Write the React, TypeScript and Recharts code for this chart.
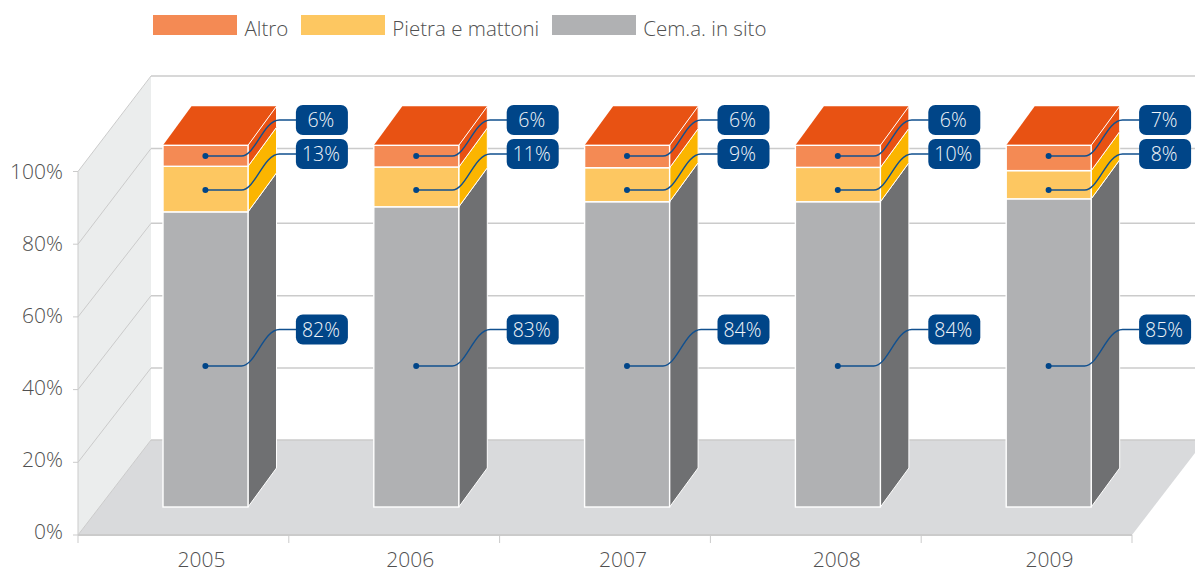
import React from 'react';
import { ComposedChart, Bar, Line, XAxis, YAxis, Legend, Customized } from 'recharts';

const years = ['2005', '2006', '2007', '2008', '2009'];
const cemento = [81.6, 83.0, 84.4, 84.4, 85.2];
const pietra = [12.6, 11.0, 9.4, 9.5, 7.8];
const altro = [5.8, 6.0, 6.2, 6.1, 7.0];
const yTicks = [0, 20, 40, 60, 80, 100];
const legendOrder = ['Altro', 'Pietra e mattoni', 'Cem.a. in sito'];
const backGrid = [76, 148.5, 223.3, 295.7, 368];
const xLabelNudge = [18, 16, 18, 21, 23];

const data = years.map((year, i) => ({ year, cemento: cemento[i], pietra: pietra[i], altro: altro[i] }));

const W = 1195;
const H = 569;
const L = 78;
const R = 1132;
const T = 171.5;
const B = 535;
const WALL_DX = 73;
const WALL_DY = 95;
const SHIFT_X = 22;
const SHIFT_Y = 28;
const DEPTH_X = 28.5;
const DEPTH_Y = 39;
const TEXT = '#505050';
const GRID = '#cbcbcb';
const FONT = '"Open Sans", "Noto Sans", sans-serif';

const makeBarShape = (front: string, side: string, withTop: boolean) => (p: any) => {
  const x = p.x + SHIFT_X;
  const y = p.y - SHIFT_Y;
  const w = p.width;
  const h = p.height;
  const rx = x + w;
  return (
    <g>
      {withTop && (
        <polygon points={`${x},${y} ${x + DEPTH_X},${y - DEPTH_Y} ${rx + DEPTH_X},${y - DEPTH_Y} ${rx},${y}`} fill="#e85213" />
      )}
      <polygon
        points={`${rx},${y} ${rx + DEPTH_X},${y - DEPTH_Y} ${rx + DEPTH_X},${y + h - DEPTH_Y} ${rx},${y + h}`}
        fill={side}
        stroke="#fff"
        strokeWidth={1}
      />
      <rect x={x} y={y} width={w} height={h} fill={front} stroke="#fff" strokeWidth={1.4} />
    </g>
  );
};

const makeLeader = (dotY: number, labelY: number) => (p: any) => {
  const x0 = p.cx + SHIFT_X;
  const value = Math.round(p.value as number);
  return (
    <g key={p.index}>
      <path
        d={`M${x0},${dotY} H${x0 + 36} C${x0 + 50},${dotY} ${x0 + 58},${labelY} ${x0 + 74},${labelY} H${x0 + 91}`}
        fill="none"
        stroke="#11508f"
        strokeWidth={1.4}
      />
      <circle cx={x0} cy={dotY} r={3} fill="#004588" />
      <rect x={x0 + 90.5} y={labelY - 15} width={52} height={30} rx={7} ry={7} fill="#004588" />
      <text
        x={x0 + 115.5}
        y={labelY}
        dy="0.36em"
        textAnchor="middle"
        fontFamily={FONT}
        fontSize={19.5}
        fontWeight={300}
        fill="#f2f5f9"
      >
        {value}%
      </text>
    </g>
  );
};

const Scene = () => {
  const step = (B - T) / 5;
  return (
    <g>
      <polygon
        points={`${L},${T} ${L + WALL_DX},${T - WALL_DY} ${L + WALL_DX},${B - WALL_DY} ${L},${B}`}
        fill="#ebeded"
      />
      <polygon
        points={`${L},${B} ${L + WALL_DX},${B - WALL_DY} ${W},${B - WALL_DY} ${W},${B - (W - R) * (WALL_DY / WALL_DX)} ${R},${B}`}
        fill="#d9dadc"
      />
      <line x1={L + WALL_DX} y1={B - WALL_DY} x2={W} y2={B - WALL_DY} stroke={GRID} strokeWidth={1.5} />
      <line x1={L} y1={B} x2={L + WALL_DX} y2={B - WALL_DY} stroke={GRID} strokeWidth={1} />
      {backGrid.map((backY, i) => {
        const y = T + i * step;
        return (
          <g key={i}>
            <line x1={L} y1={y} x2={L + WALL_DX} y2={backY} stroke={GRID} strokeWidth={1} />
            <line x1={L + WALL_DX} y1={backY} x2={W} y2={backY} stroke={GRID} strokeWidth={1.5} />
          </g>
        );
      })}
    </g>
  );
};

const YTick = (p: any) => {
  const v = p.payload.value as number;
  return (
    <text
      x={63}
      y={p.y - 4 * (1 - v / 100)}
      dy="0.36em"
      textAnchor="end"
      fontFamily={FONT}
      fontSize={21}
      fontWeight={300}
      fill={TEXT}
    >
      {v}%
    </text>
  );
};

const XTick = (p: any) => {
  const band = (R - L) / years.length;
  const last = p.index === years.length - 1;
  return (
    <g>
      <line x1={p.x - band / 2} y1={B} x2={p.x - band / 2} y2={B + 8} stroke={GRID} strokeWidth={1} />
      {last && <line x1={p.x + band / 2} y1={B} x2={p.x + band / 2} y2={B + 8} stroke={GRID} strokeWidth={1} />}
      <text
        x={p.x + xLabelNudge[p.index]}
        y={567}
        textAnchor="middle"
        fontFamily={FONT}
        fontSize={21}
        fontWeight={300}
        fill={TEXT}
      >
        {p.payload.value}
      </text>
    </g>
  );
};

const LegendContent = (props: any) => {
  const all = props.payload || [];
  const items = legendOrder.map((name) => all.find((it: any) => it.value === name)).filter(Boolean);
  return (
    <div style={{ display: 'flex', alignItems: 'flex-start', fontFamily: FONT, fontSize: 20.5, fontWeight: 300, color: TEXT }}>
      {items.map((it: any) => (
        <div key={it.value} style={{ display: 'flex', alignItems: 'flex-start', marginRight: 12.5 }}>
          <div style={{ width: 84, height: 20, background: it.color, marginRight: 7.5 }} />
          <span style={{ lineHeight: '26px', whiteSpace: 'nowrap' }}>{it.value}</span>
        </div>
      ))}
    </div>
  );
};

export default function App() {
  return (
    <div style={{ position: 'absolute', left: 0, top: 0, width: W, height: H, overflow: 'hidden', background: '#fff' }}>
      <ComposedChart
        width={W}
        height={H}
        data={data}
        barCategoryGap={0}
        margin={{ top: T, right: W - R, bottom: 0, left: 0 }}
      >
        <Customized component={Scene} />
        <XAxis
          dataKey="year"
          height={H - B}
          axisLine={{ stroke: GRID, strokeWidth: 2 }}
          tickLine={false}
          tick={XTick}
          interval={0}
        />
        <YAxis
          width={L}
          domain={[0, 100]}
          ticks={yTicks}
          axisLine={{ stroke: GRID }}
          tickLine={{ stroke: GRID }}
          tickSize={5}
          tick={YTick}
        />
        <YAxis yAxisId="bars" hide domain={[0, 100.5]} />
        <Legend
          layout="horizontal"
          verticalAlign="middle"
          align="center"
          wrapperStyle={{ top: 15, left: 153, width: 800 }}
          content={LegendContent}
        />
        <Bar yAxisId="bars" dataKey="cemento" name="Cem.a. in sito" stackId="s" barSize={85} fill="#b0b1b3" isAnimationActive={false} shape={makeBarShape('#b0b1b3', '#6f7072', false)} />
        <Bar yAxisId="bars" dataKey="pietra" name="Pietra e mattoni" stackId="s" barSize={85} fill="#fdc761" isAnimationActive={false} shape={makeBarShape('#fdc761', '#fbb500', false)} />
        <Bar yAxisId="bars" dataKey="altro" name="Altro" stackId="s" barSize={85} fill="#f48a54" isAnimationActive={false} shape={makeBarShape('#f48a54', '#e85213', true)} />
        <Line dataKey="cemento" stroke="none" legendType="none" isAnimationActive={false} dot={makeLeader(366, 329.5)} activeDot={false} />
        <Line dataKey="pietra" stroke="none" legendType="none" isAnimationActive={false} dot={makeLeader(190, 154)} activeDot={false} />
        <Line dataKey="altro" stroke="none" legendType="none" isAnimationActive={false} dot={makeLeader(156, 120)} activeDot={false} />
      </ComposedChart>
    </div>
  );
}
